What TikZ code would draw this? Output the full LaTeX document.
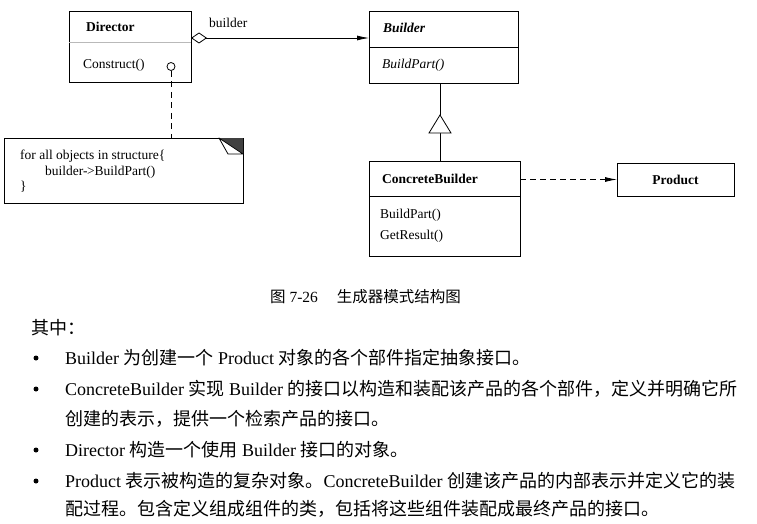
\documentclass[tikz,border=0pt]{standalone}
\usepackage{fontspec}
\setmainfont{Liberation Serif}
\newfontfamily\cjk{Noto Sans CJK SC}
\usetikzlibrary{arrows.meta}
\begin{document}
\begin{tikzpicture}[x=1pt,y=-1pt,
  box/.style={draw, line width=0.8pt, inner sep=0pt, outer sep=0pt, anchor=north west},
  sepline/.style={line width=0.8pt},
  dtext/.style={font=\fontsize{13.5}{16}\selectfont, inner sep=0pt, anchor=base west},
  btext/.style={font=\fontsize{18}{22}\selectfont, inner sep=0pt, anchor=base west},
  ctext/.style={font=\fontsize{15.5}{18}\selectfont, inner sep=0pt, anchor=base west},
  conn/.style={line width=0.8pt},
  bulletdot/.style={circle, fill, inner sep=0pt, minimum size=5pt},
  filledtip/.style={-{Latex[length=12pt,width=5pt]}}
  ]
\useasboundingbox (0,0) rectangle (757,524);

% class boxes
\node[box, minimum width=122pt, minimum height=71pt] (director) at (69,11) {};
\draw[sepline, gray!55] (director.west |- 0,42) -- (director.east |- 0,42);
\node[box, minimum width=149pt, minimum height=72pt] (builder) at (369,11) {};
\draw[sepline] (builder.west |- 0,47) -- (builder.east |- 0,47);
\node[box, minimum width=151pt, minimum height=95pt] (cb) at (369,161) {};
\draw[sepline] (cb.west |- 0,196) -- (cb.east |- 0,196);
\node[box, minimum width=117pt, minimum height=33pt] (product) at (617,163) {};
\node[box, minimum width=239pt, minimum height=65pt] (note) at (4,138) {};

% note corner
\fill[black!75] (219,138) -- (243,138) -- (243,154) -- cycle;
\draw[conn, fill=white, line join=round] (219,138) -- (228,154) -- (243,154) -- cycle;

% texts in boxes
\node[dtext] (dname) at (86,31.5) {\bfseries Director};
\node[dtext] (dop) at (83,68.5) {Construct()};
\node[dtext] (bname) at (383,33) {\bfseries\itshape Builder};
\node[dtext] (bop) at (382,68.5) {\itshape BuildPart()};
\node[dtext] (cbname) at (382,183.5) {\bfseries ConcreteBuilder};
\node[dtext] (cbop1) at (380,218.5) {BuildPart()};
\node[dtext] (cbop2) at (380,239.5) {GetResult()};
\node[dtext, anchor=base] (pname) at (675.5,184) {\bfseries Product};
\node[dtext] (n1) at (20,159) {for all objects in structure\{};
\node[dtext] (n2) at (45,175) {builder-\kern-0.6pt>BuildPart()};
\node[dtext] (n3) at (20,190) {\}};

% connectors
\coordinate (bl) at (0,38);
\draw[conn, {Diamond[open,length=16pt,width=11pt]}-{Latex[length=12pt,width=5pt]}]
  (director.east |- bl) -- (builder.west |- bl);
\node[dtext] (lbl) at (209,27.5) {builder};

\coordinate (tb) at (440,133);
\coordinate (ta) at (440,115);
\draw[conn] (cb.north -| tb) -- (tb);
\draw[conn, fill=white, line join=miter] (429,133) -- (ta) -- (451,133) -- cycle;
\draw[conn] (ta) -- (builder.south -| ta);

\draw[conn, dash pattern=on 6pt off 4pt, filledtip] (cb.east |- product.west) -- (product.west);

\node[draw, circle, minimum size=8pt, inner sep=0pt, line width=0.8pt] (circ) at (171,66.5) {};
\draw[conn, dash pattern=on 6pt off 4.5pt] (circ.south) -- (note.north -| circ.south);

% caption and body text
\node[ctext] (cap) at (270,302) {{\cjk 图} 7-26\hspace{19pt}{\cjk 生成器模式结构图}};
\node[btext] (t0) at (31,334) {{\cjk 其中：}};

\node[bulletdot] (b1) at (36,358) {};
\node[bulletdot] (b2) at (36,389) {};
\node[bulletdot] (b3) at (36,450) {};
\node[bulletdot] (b4) at (36,481) {};

\node[btext] (l1) at (65,364) {Builder {\cjk 为创建一个} Product {\cjk 对象的各个部件指定抽象接口。}};
\node[btext] (l2) at (65,395) {ConcreteBuilder {\cjk 实现} Builder {\cjk 的接口以构造和装配该产品的各个部件，定义并明确它所}};
\node[btext] (l2b) at (65,425) {{\cjk 创建的表示，提供一个检索产品的接口。}};
\node[btext] (l3) at (65,456) {Director {\cjk 构造一个使用} Builder {\cjk 接口的对象。}};
\node[btext] (l4) at (65,487) {Product {\cjk 表示被构造的复杂对象。}ConcreteBuilder {\cjk 创建该产品的内部表示并定义它的装}};
\node[btext] (l4b) at (65,515) {{\cjk 配过程。包含定义组成组件的类，包括将这些组件装配成最终产品的接口。}};
\end{tikzpicture}
\end{document}
